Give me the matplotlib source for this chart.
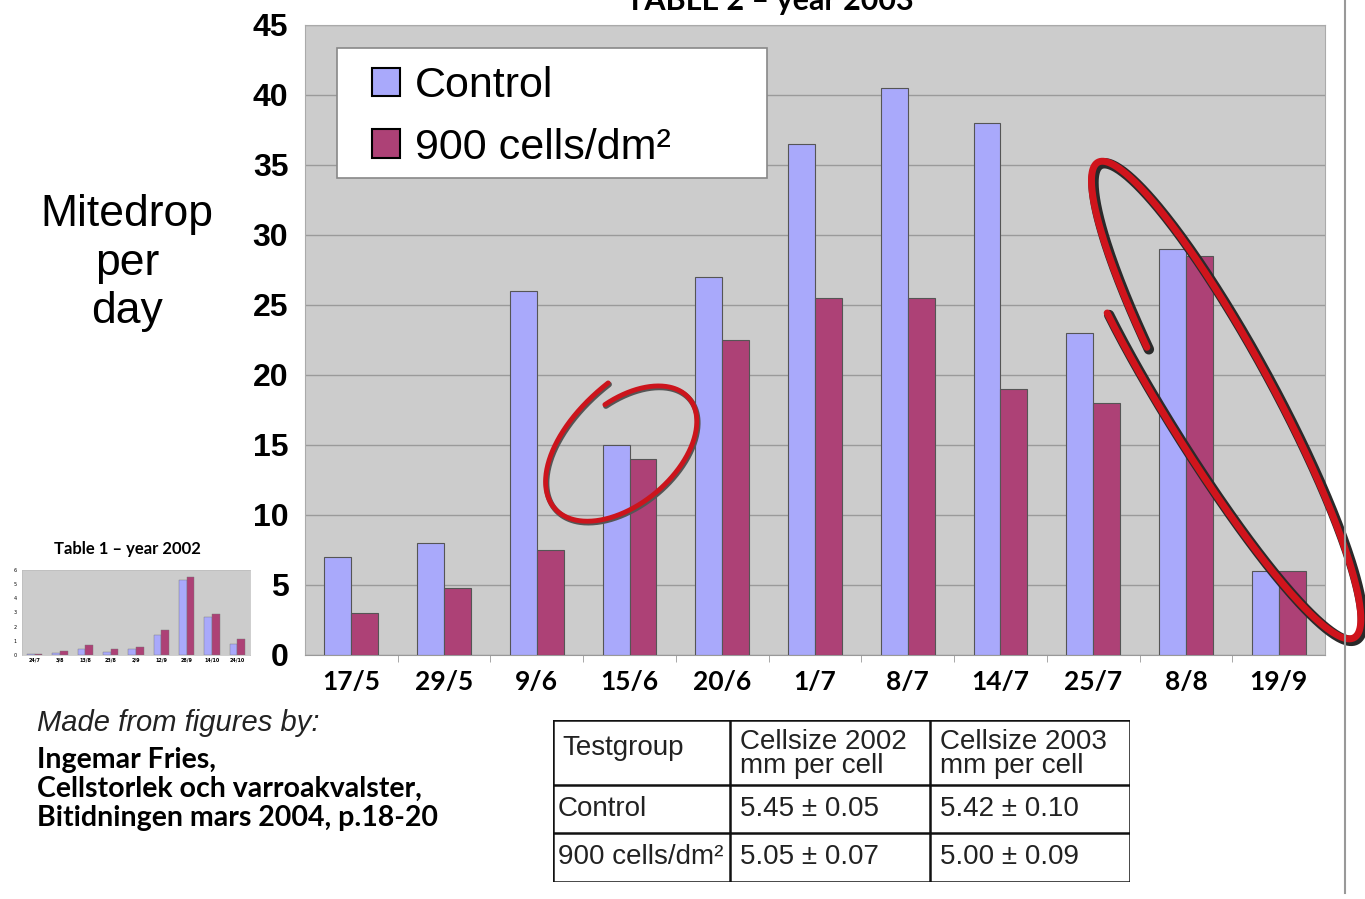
import numpy as np
import matplotlib
matplotlib.use("Agg")
import matplotlib.pyplot as plt
from matplotlib.patches import Rectangle
from matplotlib.lines import Line2D

## DATA ##
dates_2003 = ["17/5", "29/5", "9/6", "15/6", "20/6", "1/7", "8/7", "14/7", "25/7", "8/8", "19/9"]
control_2003 = [7, 8, 26, 15, 27, 36.5, 40.5, 38, 23, 29, 6]
cells900_2003 = [3, 4.8, 7.5, 14, 22.5, 25.5, 25.5, 19, 18, 28.5, 6]

dates_2002 = ["24/7", "3/8", "13/8", "23/8", "2/9", "12/9", "28/9", "14/10", "24/10"]
control_2002 = [0.1, 0.15, 0.4, 0.2, 0.4, 1.4, 5.3, 2.7, 0.8]
cells900_2002 = [0.1, 0.3, 0.7, 0.4, 0.6, 1.8, 5.5, 2.9, 1.1]

series_labels = ["Control", "900 cells/dm²"]
table_header = ["Testgroup", "Cellsize 2002\nmm per cell", "Cellsize 2003\nmm per cell"]
table_rows = [
    ["Control", "5.45 ± 0.05", "5.42 ± 0.10"],
    ["900 cells/dm²", "5.05 ± 0.07", "5.00 ± 0.09"],
]

CTRL = "#a9a9fb"
C900 = "#ad4176"
GRAY = "#cccccc"
W, H = 1365, 899

fig = plt.figure(figsize=(W / 100, H / 100), dpi=100)
fig.patch.set_facecolor("white")


def fx(px):
    return px / W


def fy(py):
    return 1 - py / H


## MAIN CHART ##
ax = fig.add_axes([fx(305), fy(655), fx(1325) - fx(305), fy(25) - fy(655)])
ax.set_facecolor(GRAY)
x = np.arange(len(dates_2003))
w = 0.29
ax.bar(x - w / 2, control_2003, w, color=CTRL, edgecolor="#555555", linewidth=0.8,
       label=series_labels[0], zorder=3)
ax.bar(x + w / 2, cells900_2003, w, color=C900, edgecolor="#555555", linewidth=0.8,
       label=series_labels[1], zorder=3)

ax.set_xlim(-0.5, len(dates_2003) - 0.5)
ax.set_ylim(0, 45)
ax.set_yticks(range(0, 46, 5))
ax.yaxis.grid(True, color="#9a9a9a", linewidth=1, zorder=1)
ax.set_axisbelow(True)
ax.set_xticks(x)
ax.set_xticklabels(dates_2003, fontfamily="Lato", fontweight="bold", fontsize=19)
ax.set_xticks(x[:-1] + 0.5, minor=True)
ax.tick_params(axis="x", which="major", length=0, pad=11)
ax.tick_params(axis="x", which="minor", length=5, color="#999999")
ax.tick_params(axis="y", length=0, pad=12)
for lab in ax.get_yticklabels():
    lab.set_fontfamily("Liberation Sans")
    lab.set_fontweight("bold")
    lab.set_fontsize(23)
for side in ["left", "right", "top"]:
    ax.spines[side].set_color("#aaaaaa")
ax.spines["bottom"].set_color("#999999")

# legend box drawn on its own, entries placed inside it
box_x0, box_x1 = (337 - 305) / 1020, (767 - 305) / 1020
box_y0, box_y1 = (655 - 178) / 630, (655 - 48) / 630
ax.add_patch(Rectangle((box_x0, box_y0), box_x1 - box_x0, box_y1 - box_y0,
                       transform=ax.transAxes, facecolor="white", edgecolor="#888888",
                       linewidth=1.2, zorder=4))
leg = ax.legend(loc="upper left", bbox_to_anchor=((372 - 305) / 1020, (655 - 66) / 630),
                borderaxespad=0, borderpad=0, frameon=False,
                prop={"family": "Liberation Sans", "size": 31},
                handlelength=0.64, handleheight=0.64, handletextpad=0.35,
                labelspacing=0.5)
leg.set_zorder(5)
for hnd in leg.legend_handles:
    hnd.set_edgecolor("black")
    hnd.set_linewidth(1.5)

fig.text(fx(770), fy(10), "TABLE 2 – year 2003", ha="center", va="baseline",
         fontfamily="Lato", fontweight="bold", fontsize=22)
fig.text(fx(127), fy(263), "Mitedrop\nper\nday", ha="center", va="center",
         multialignment="center", fontfamily="Liberation Sans", fontsize=32,
         linespacing=1.24)

## INSET 2002 ##
axi = fig.add_axes([fx(22), fy(655), fx(250) - fx(22), fy(570) - fy(655)])
axi.set_facecolor(GRAY)
xi = np.arange(len(dates_2002))
wi = 0.3
axi.bar(xi - wi / 2, control_2002, wi, color=CTRL, edgecolor="#777777", linewidth=0.3, zorder=3)
axi.bar(xi + wi / 2, cells900_2002, wi, color=C900, edgecolor="#777777", linewidth=0.3, zorder=3)
axi.set_xlim(-0.5, len(dates_2002) - 0.5)
axi.set_ylim(0, 6)
axi.set_yticks(range(0, 7))
axi.set_xticks(xi)
axi.set_xticklabels(dates_2002, fontsize=3.5, fontweight="bold")
axi.tick_params(axis="y", labelsize=3.5, length=0, pad=4)
axi.tick_params(axis="x", length=0, pad=2)
for s in axi.spines.values():
    s.set_color("#bbbbbb")
    s.set_linewidth(0.5)
fig.text(fx(127), fy(549), "Table 1 – year 2002", ha="center", va="center",
         fontfamily="Lato", fontweight="bold", fontsize=12)

## SOURCE TEXT ##
fig.text(fx(37), fy(723), "Made from figures by:", ha="left", va="center",
         fontfamily="Liberation Sans", fontstyle="italic", fontsize=21, color="#222222")
source_lines = ["Ingemar Fries,", "Cellstorlek och varroakvalster,", "Bitidningen mars 2004, p.18-20"]
for i, line in enumerate(source_lines):
    fig.text(fx(37), fy(760 + 29 * i), line, ha="left", va="center",
             fontfamily="Lato", fontweight="bold", fontsize=20.5)

## TABLE ##
axt = fig.add_axes([fx(553), fy(882), fx(1130) - fx(553), fy(720) - fy(882)])
axt.set_xlim(0, 577)
axt.set_ylim(162, 0)
axt.axis("off")
col_edges = [0, 177, 377, 577]
row_edges = [0, 65, 113, 162]
for c in col_edges:
    axt.plot([c, c], [0, 162], color="#111111", lw=1.8, solid_capstyle="projecting")
for r in row_edges:
    axt.plot([0, 577], [r, r], color="#111111", lw=1.8, solid_capstyle="projecting")
tfont = {"family": "Liberation Sans", "size": 20, "color": "#222222"}
axt.text(col_edges[0] + 9, 28, table_header[0], ha="left", va="center", **tfont)
for j in (1, 2):
    top, bottom = table_header[j].split("\n")
    axt.text(col_edges[j] + 10, 22, top, ha="left", va="center", **tfont)
    axt.text(col_edges[j] + 10, 46, bottom, ha="left", va="center", **tfont)
row_centers = [89, 137]
for i, row in enumerate(table_rows):
    for j, cell in enumerate(row):
        axt.text(col_edges[j] + (5 if j == 0 else 10), row_centers[i], cell,
                 ha="left", va="center", **tfont)


## HAND-DRAWN RED LOOPS ##
def loop(cx, cy, a, b, angle, t0, t1, a_scale, b_scale, color, lw, dx=0, dy=0):
    t = np.radians(np.linspace(t0, t1, 400))
    u = np.linspace(0, 1, t.size)
    lx = a * a_scale(u) * np.cos(t)
    ly = b * b_scale(u) * np.sin(t)
    A = np.radians(angle)
    px = cx + lx * np.cos(A) - ly * np.sin(A) + dx
    py_up = (H - cy) + lx * np.sin(A) + ly * np.cos(A) - dy
    fig.add_artist(Line2D(px / 100, py_up / 100, transform=fig.dpi_scale_trans,
                          color=color, lw=lw, solid_capstyle="round"))


def small_scale(u):
    return 0.9 + 0.08 * u + 0.22 * u ** 8


def one(u):
    return np.ones_like(u)


loop(624, 452, 92, 55, 40, 79, 79 - 366, small_scale, small_scale, "#555555", 4, dx=1, dy=1.5)
loop(624, 452, 92, 55, 40, 79, 79 - 366, small_scale, small_scale, "#cc141c", 3.5)


def big_b(u):
    return 1 + 0.55 * np.exp(-u * 371 / 45)


loop(1226, 400, 270, 47, -61.7, 240.5, 611.9, one, big_b, "#2a2a2a", 7.5, dx=2, dy=2)
loop(1226, 400, 270, 47, -61.7, 240.5, 611.9, one, big_b, "#d0141c", 5)

fig.add_artist(Line2D([fx(1345), fx(1345)], [fy(893), 1], transform=fig.transFigure,
                      color="#999999", lw=1.5))

plt.savefig("out.png", dpi=100)
